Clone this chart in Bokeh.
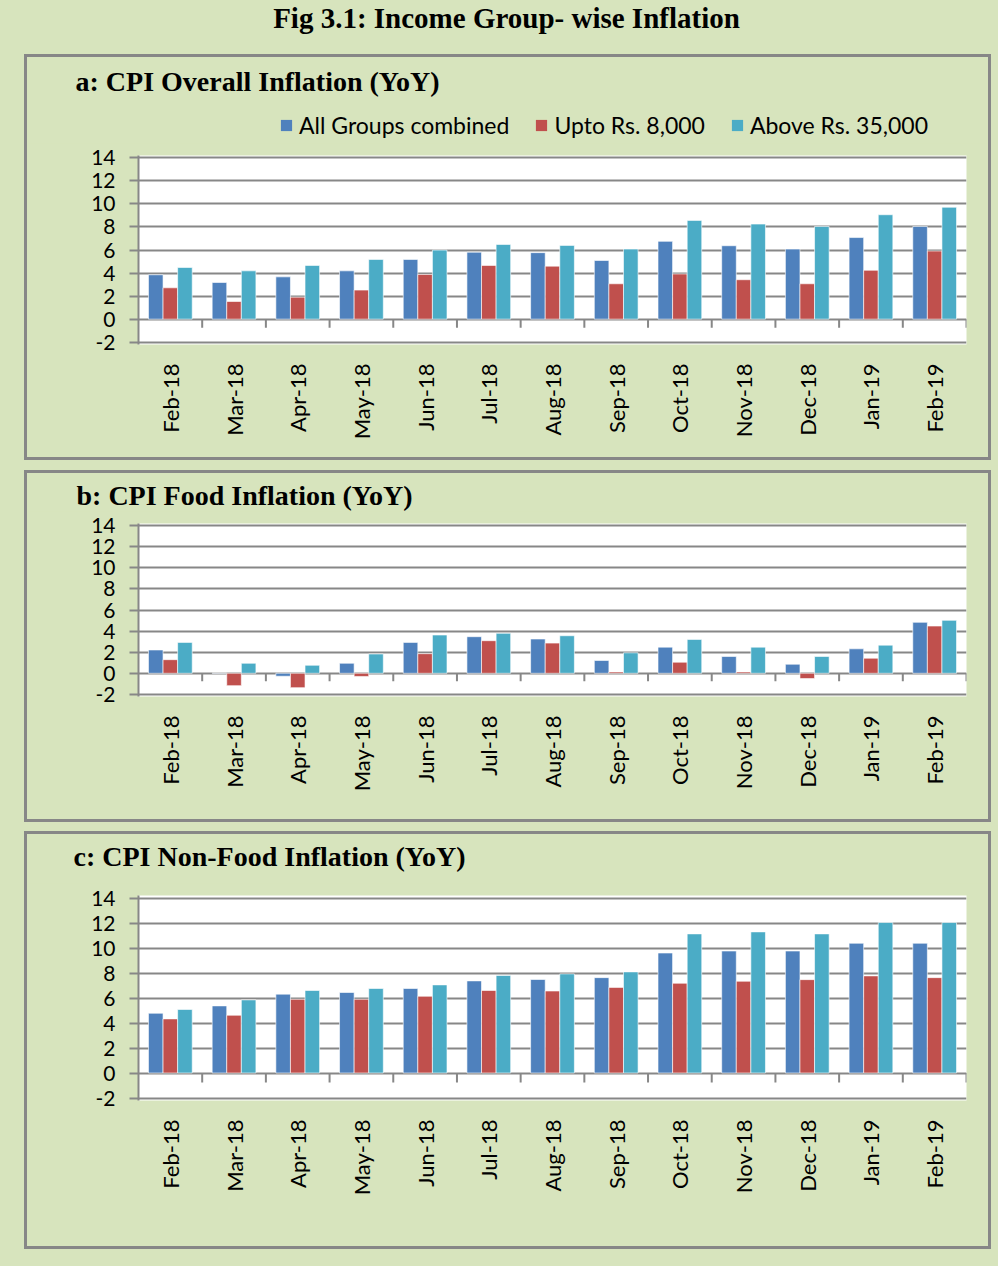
import math
from bokeh.plotting import figure
from bokeh.models import (FactorRange, Range1d, FixedTicker, ColumnDataSource,
                          Legend, LegendItem, Label, Spacer)
from bokeh.layouts import column
from bokeh.transform import dodge
from bokeh.embed import file_html
from bokeh.resources import INLINE
from bokeh.core.properties import value

# ---------------- data ----------------
months = ["Feb-18", "Mar-18", "Apr-18", "May-18", "Jun-18", "Jul-18", "Aug-18",
          "Sep-18", "Oct-18", "Nov-18", "Dec-18", "Jan-19", "Feb-19"]
series_names = ["All Groups combined", "Upto Rs. 8,000", "Above Rs. 35,000"]
y_ticks = [-2, 0, 2, 4, 6, 8, 10, 12, 14]

overall_all = [3.85, 3.18, 3.67, 4.19, 5.18, 5.81, 5.77, 5.09, 6.75, 6.37, 6.08, 7.08, 8.04]
overall_low = [2.72, 1.53, 1.91, 2.52, 3.88, 4.66, 4.60, 3.07, 3.92, 3.42, 3.07, 4.24, 5.91]
overall_high = [4.48, 4.19, 4.66, 5.18, 5.99, 6.48, 6.40, 6.08, 8.57, 8.25, 8.04, 9.06, 9.71]

food_all = [2.21, 0.02, -0.28, 0.95, 2.93, 3.47, 3.25, 1.21, 2.48, 1.59, 0.86, 2.32, 4.83]
food_low = [1.29, -1.17, -1.36, -0.30, 1.86, 3.09, 2.86, 0.13, 1.05, 0.13, -0.50, 1.43, 4.48]
food_high = [2.93, 0.95, 0.76, 1.83, 3.63, 3.79, 3.56, 1.94, 3.21, 2.48, 1.59, 2.67, 5.02]

nonfood_all = [4.78, 5.37, 6.31, 6.44, 6.76, 7.37, 7.48, 7.63, 9.60, 9.76, 9.76, 10.38, 10.38]
nonfood_low = [4.33, 4.62, 5.90, 5.90, 6.14, 6.60, 6.56, 6.85, 7.18, 7.34, 7.47, 7.77, 7.63]
nonfood_high = [5.08, 5.85, 6.60, 6.76, 7.05, 7.80, 7.93, 8.09, 11.13, 11.29, 11.13, 12.04, 12.04]

# ---------------- style ----------------
GREEN = "#D7E4BD"
GREY = "#878787"
COLORS = ["#4F81BD", "#C0504D", "#4BACC6"]
SANS = "Lato"
SERIF = "Liberation Serif"
BAR_W = 0.229
OFFSETS = [-BAR_W, 0.0, BAR_W]
INNER_W = 961


def make_source(a, b, c):
    return ColumnDataSource(dict(month=months, s0=a, s1=b, s2=c,
                                 zero=[0] * len(months), tick=[-0.75] * len(months)))


def make_header(title, height, title_xy, src=None, legend_xy=None):
    h = figure(width=INNER_W, height=height, x_range=(0, INNER_W), y_range=(0, height),
               x_axis_type=None, y_axis_type=None, min_border=0,
               output_backend="svg", toolbar_location=None,
               background_fill_color=GREEN, border_fill_color=GREEN)
    h.outline_line_color = None
    h.grid.visible = False
    h.add_layout(Label(x=title_xy[0], y=title_xy[1], text=title, text_font=SERIF,
                       text_font_style="bold", text_font_size="28px",
                       text_color="black", text_baseline="middle"))
    if legend_xy is not None:
        # legend keys: zero-size bars of the same series (invisible in the header)
        rends = [h.vbar(x="zero", top="zero", bottom="zero", width=0, source=src,
                        fill_color=col, line_color=None)
                 for col in COLORS]
        items = [LegendItem(label=value(n), renderers=[r]) for n, r in zip(series_names, rends)]
        lg = Legend(items=items, location=legend_xy, orientation="horizontal",
                    border_line_color=None, background_fill_alpha=0,
                    padding=0, margin=0, spacing=25, label_standoff=6,
                    glyph_width=14, glyph_height=14, label_height=14,
                    label_text_font=SANS, label_text_font_size="23px",
                    label_text_color="black")
        h.add_layout(lg, "center")
    return h


def make_chart(src, frame_h, bottom):
    p = figure(x_range=FactorRange(factors=months, range_padding=0),
               y_range=Range1d(-2.2, 14.2),
               frame_width=828, frame_height=frame_h,
               min_border_left=111, min_border_right=22,
               min_border_top=12, min_border_bottom=bottom,
               output_backend="svg", toolbar_location=None,
               background_fill_color="white", border_fill_color=GREEN)
    p.outline_line_color = None
    p.xgrid.visible = False
    p.ygrid.grid_line_color = GREY
    p.ygrid.grid_line_width = 2

    for i, key in enumerate(["s0", "s1", "s2"]):
        p.vbar(x=dodge("month", OFFSETS[i], range=p.x_range), top=key,
               bottom=0, width=BAR_W, source=src, fill_color=COLORS[i],
               line_color="white", line_alpha=0.6, line_width=1)

    # category separator ticks on the zero line
    p.segment(x0=dodge("month", 0.5, range=p.x_range), y0="zero",
              x1=dodge("month", 0.5, range=p.x_range), y1="tick",
              source=src, line_color=GREY, line_width=2)

    yax = p.yaxis[0]
    yax.ticker = FixedTicker(ticks=y_ticks)
    yax.major_label_overrides = {t: str(t) for t in y_ticks}
    yax.axis_line_color = GREY
    yax.axis_line_width = 2
    yax.major_tick_line_color = GREY
    yax.major_tick_line_width = 2
    yax.major_tick_out = 9
    yax.major_tick_in = 0
    yax.minor_tick_line_color = None
    yax.major_label_text_font = SANS
    yax.major_label_text_font_size = "21px"
    yax.major_label_text_color = "black"
    yax.major_label_standoff = 14

    xax = p.xaxis[0]
    xax.axis_line_color = None
    xax.major_tick_line_color = None
    xax.minor_tick_line_color = None
    xax.major_label_orientation = math.pi / 2
    xax.major_label_text_font = SANS
    xax.major_label_text_font_size = "22px"
    xax.major_label_text_color = "black"
    xax.major_label_standoff = 13
    return p


def boxed(header, chart, top_margin):
    return column(column(header), chart, spacing=0, margin=(top_margin, 0, 0, 24),
                  styles={"border": "3px solid " + GREY, "background-color": GREEN})


# overall title
t = figure(width=998, height=54, x_range=(0, 998), y_range=(0, 54),
           x_axis_type=None, y_axis_type=None, min_border=0,
           output_backend="svg", toolbar_location=None,
           background_fill_color=GREEN, border_fill_color=GREEN)
t.outline_line_color = None
t.grid.visible = False
t.add_layout(Label(x=506, y=37, text="Fig 3.1: Income Group- wise Inflation",
                   text_font=SERIF, text_font_style="bold", text_font_size="29px",
                   text_align="center", text_baseline="middle", text_color="black"))

src_a = make_source(overall_all, overall_low, overall_high)
src_b = make_source(food_all, food_low, food_high)
src_c = make_source(nonfood_all, nonfood_low, nonfood_high)

ha = make_header("a: CPI Overall Inflation (YoY)", 86, (48, 62), src=src_a, legend_xy=(252, 4))
ca = make_chart(src_a, 189, 113)
hb = make_header("b: CPI Food Inflation (YoY)", 38, (49, 16))
cb = make_chart(src_b, 173, 123)
hc = make_header("c: CPI Non-Food Inflation (YoY)", 49, (46, 27))
cc = make_chart(src_c, 205, 146)

root = column(t, boxed(ha, ca, 0), boxed(hb, cb, 10), boxed(hc, cc, 9),
              Spacer(width=998, height=17),
              spacing=0, styles={"background-color": GREEN})

open("out.html", "w").write(file_html(root, INLINE))
